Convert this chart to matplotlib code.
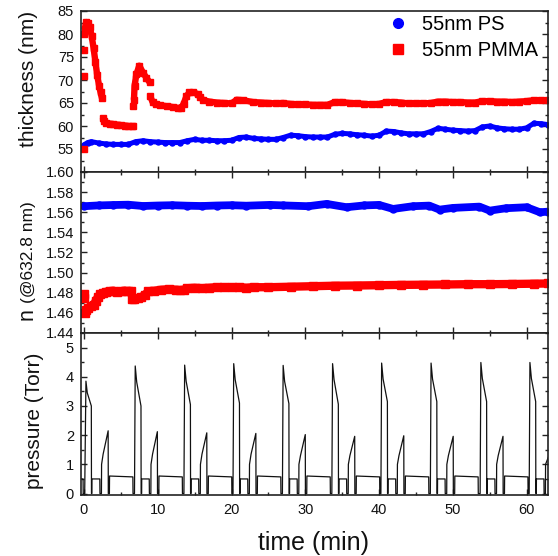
import matplotlib
matplotlib.use("Agg")
import matplotlib.pyplot as plt
from matplotlib.ticker import MultipleLocator
from matplotlib.lines import Line2D
import numpy as np

nan = np.nan
plt.rcParams['font.family'] = ['Liberation Sans', 'DejaVu Sans']

# ---------------- data ----------------
# PS thickness (nm)
ps_thick_t = [0, 0.5, 1, 2, 3, 4, 5, 6, 7, 8, 9, 10, 11, 12, 13, 14, 15, 16, 17, 18, 19, 20,
              21, 22, 23, 24, 25, 26, 27, 28, 29, 30, 31, 32, 33, 34, 35, 36, 37, 38, 39, 40,
              41, 42, 43, 44, 45, 46, 47, 48, 49, 50, 51, 52, 53, 54, 55, 56, 57, 58, 59, 60,
              61, 62, 62.9]
ps_thick = [55.9, 56.4, 56.6, 56.3, 56.1, 56.0, 56.0, 56.0, 56.6, 56.8, 56.6, 56.5, 56.4, 56.4,
            56.4, 56.8, 57.1, 56.9, 56.9, 56.8, 56.8, 56.9, 57.5, 57.6, 57.3, 57.2, 57.1, 57.1,
            57.5, 58.0, 57.9, 57.7, 57.6, 57.6, 57.6, 58.2, 58.4, 58.3, 58.1, 58.0, 57.8, 58.0,
            58.9, 58.8, 58.5, 58.3, 58.3, 58.3, 58.8, 59.5, 59.3, 59.1, 59.0, 58.9, 59.0, 59.8,
            60.0, 59.6, 59.4, 59.3, 59.3, 59.6, 60.6, 60.5, 60.3]

# PMMA thickness (nm); nan separates the gaps in the record
pmma_thick_t = [0.0, nan, 0.0, nan, 0.0, nan, 0.02, nan,
                0.1, 0.3, 0.55, 0.8, 1.05, 1.3, 1.55, 1.8, 2.05, 2.25, 2.45, nan,
                2.55, 2.7, 3.0, 3.5, 4.0, 4.5, 5.0, 5.5, 6.0, 6.5, 6.62, nan,
                6.68, nan,
                6.78, 6.86, 7.1, 7.5, 8.0, 8.45, 8.9, nan,
                8.95, 9.3, 9.7, 10.3, 11.2, 12.1, 12.8, 13.2, 13.5, 13.9, 14.3, 14.8, 15.5,
                15.7, 16.2, 17, 18, 19, 20, 20.7, 21.6, 22.9, 24, 25, 26, 27, 28, 29, 30, 31,
                32, 33, 34, 35, 36, 37, 38, 39, 40, 41, 42, 43, 44, 45, 46, 47, 48, 49, 50, 51,
                52, 53, 54, 55, 56, 57, 58, 59, 60, 61, 62, 62.9]
pmma_thick = [55.0, nan, 70.9, nan, 76.5, nan, 80.0, nan,
              81.0, 82.6, 82.4, 81.5, 79.5, 77.0, 74.0, 71.0, 68.8, 67.3, 66.0, nan,
              61.8, 61.0, 60.7, 60.5, 60.4, 60.3, 60.2, 60.1, 60.0, 59.9, 59.9, nan,
              64.4, nan,
              65.7, 68.7, 71.2, 73.1, 71.6, 70.5, 69.5, nan,
              66.6, 65.2, 64.7, 64.5, 64.3, 64.1, 63.9, 64.0, 64.8, 66.5, 67.3, 67.3, 66.9,
              66.3, 65.6, 65.3, 65.1, 65.0, 64.9, 65.7, 65.6, 65.2, 65.1, 65.0, 64.9, 65.0,
              64.8, 64.7, 64.7, 64.6, 64.6, 64.6, 65.2, 65.2, 65.0, 64.9, 64.8, 64.7, 64.8,
              65.2, 65.2, 65.1, 64.9, 64.9, 64.9, 65.0, 65.3, 65.3, 65.2, 65.2, 65.1, 65.1,
              65.4, 65.4, 65.3, 65.3, 65.2, 65.3, 65.4, 65.6, 65.6, 65.6]

# refractive index at 632.8 nm
ps_n_t = [0, 2, 4, 6, 8, 10, 12, 14, 16, 18, 20, 22, 25.2, 27, 30.4, 32.9, 35.6, 38, 40.0,
          41.9, 44.6, 46.8, 48.2, 50.0, 53.6, 55.0, 57.2, 60.0, 61.8, 62.9]
ps_n = [1.5660, 1.5668, 1.5672, 1.5675, 1.5662, 1.5667, 1.5670, 1.5665, 1.5662, 1.5667,
        1.5670, 1.5665, 1.5673, 1.5668, 1.5660, 1.5683, 1.5650, 1.5668, 1.5673, 1.5633,
        1.5660, 1.5666, 1.5626, 1.5643, 1.5656, 1.5616, 1.5640, 1.5650, 1.5600, 1.5606]

pmma_n_t = [-0.05, nan, 0.0, nan,
            0.15, 0.3, 0.6, 1.0, 1.3, 1.6, 1.9, 2.2, 2.6, 3.0, 3.5, 4.0, 4.5, 5.0, 5.5, 6.0,
            6.4, nan,
            6.5, 6.8, 7.3, 7.8, 8.3, 8.7, 9.5, 10.5, 11.5, 12.5, 13.0, 13.5, 14.0, 15, 16, 17,
            18, 19, 20, 21, 22, 23, 25, 28, 31, 34, 37, 40, 43, 46, 49, 52, 55, 58, 61, 62.9]
pmma_n = [1.4785, nan, 1.4750, nan,
          1.4600, 1.4625, 1.4650, 1.4665, 1.4675, 1.4720, 1.4760, 1.4785, 1.4800, 1.4810,
          1.4815, 1.4820, 1.4810, 1.4815, 1.4820, 1.4815, 1.4820, nan,
          1.4740, 1.4735, 1.4745, 1.4760, 1.4780, 1.4815, 1.4820, 1.4830, 1.4835, 1.4830,
          1.4825, 1.4830, 1.4845, 1.4850, 1.4845, 1.4850, 1.4855, 1.4855, 1.4855, 1.4855,
          1.4850, 1.4855, 1.4855, 1.4860, 1.4865, 1.4870, 1.4872, 1.4875, 1.4878, 1.4880,
          1.4882, 1.4885, 1.4885, 1.4887, 1.4890, 1.4892]

# chamber pressure (Torr)
pressure_t = [-0.45, -0.12, -0.1,
              0.1, 0.27, 0.45, 1.0, 1.02, 1.07, 1.08, 2.15, 2.17, 2.37, 2.39, 2.6, 3.28, 3.3, 3.45, 3.47, 6.63, 6.65,
              6.85, 6.95, 7.15, 7.73, 7.75, 7.82, 7.83, 8.85, 8.87, 9.07, 9.09, 9.3, 9.95, 9.97, 10.15, 10.17, 13.33, 13.35,
              13.55, 13.65, 13.85, 14.43, 14.45, 14.52, 14.53, 15.55, 15.57, 15.77, 15.79, 16.0, 16.65, 16.67, 16.85, 16.87, 20.03, 20.05,
              20.2, 20.3, 20.5, 21.08, 21.1, 21.17, 21.18, 22.2, 22.22, 22.42, 22.44, 22.65, 23.3, 23.32, 23.5, 23.52, 26.68, 26.7,
              26.9, 27.0, 27.2, 27.78, 27.8, 27.87, 27.88, 28.9, 28.92, 29.12, 29.14, 29.35, 30.0, 30.02, 30.2, 30.22, 33.38, 33.4,
              33.6, 33.7, 33.9, 34.48, 34.5, 34.57, 34.58, 35.6, 35.62, 35.82, 35.84, 36.05, 36.7, 36.72, 36.9, 36.92, 40.08, 40.1,
              40.25, 40.35, 40.55, 41.13, 41.15, 41.22, 41.23, 42.25, 42.27, 42.47, 42.49, 42.7, 43.35, 43.37, 43.55, 43.57, 46.73, 46.75,
              46.95, 47.05, 47.25, 47.83, 47.85, 47.92, 47.93, 48.95, 48.97, 49.17, 49.19, 49.4, 50.05, 50.07, 50.25, 50.27, 53.43, 53.45,
              53.7, 53.8, 54.0, 54.58, 54.6, 54.67, 54.68, 55.7, 55.72, 55.92, 55.94, 56.15, 56.8, 56.82, 57.0, 57.02, 60.18, 60.2,
              60.35, 60.45, 60.65, 61.23, 61.25, 61.32, 61.33, 62.35, 62.37, 62.55, 62.57, 62.95]
pressure = [0.5, 0.5, 0,
            0, 3.85, 3.45, 3.0, 0, 0, 0.5, 0.5, 0, 0, 1.0, 1.35, 2.15, 0, 0, 0.6, 0.57, 0,
            0, 4.37, 3.82, 3.0, 0, 0, 0.5, 0.5, 0, 0, 1.0, 1.35, 2.12, 0, 0, 0.6, 0.57, 0,
            0, 4.40, 3.85, 3.05, 0, 0, 0.5, 0.5, 0, 0, 1.0, 1.35, 2.08, 0, 0, 0.6, 0.57, 0,
            0, 4.45, 3.90, 3.10, 0, 0, 0.5, 0.5, 0, 0, 1.0, 1.35, 2.06, 0, 0, 0.6, 0.57, 0,
            0, 4.39, 3.84, 3.08, 0, 0, 0.5, 0.5, 0, 0, 1.0, 1.30, 2.02, 0, 0, 0.6, 0.57, 0,
            0, 4.45, 3.90, 3.06, 0, 0, 0.5, 0.5, 0, 0, 1.0, 1.30, 1.96, 0, 0, 0.6, 0.57, 0,
            0, 4.47, 3.92, 3.15, 0, 0, 0.5, 0.5, 0, 0, 1.0, 1.30, 1.98, 0, 0, 0.6, 0.57, 0,
            0, 4.47, 3.92, 3.15, 0, 0, 0.5, 0.5, 0, 0, 1.0, 1.30, 1.96, 0, 0, 0.6, 0.57, 0,
            0, 4.49, 3.94, 3.15, 0, 0, 0.5, 0.5, 0, 0, 1.0, 1.30, 1.96, 0, 0, 0.6, 0.57, 0,
            0, 4.49, 3.94, 3.15, 0, 0, 0.5, 0.5, 0, 0, 1.0, 1.25]

time_ticks = [0, 10, 20, 30, 40, 50, 60]
thick_ticks = [55, 60, 65, 70, 75, 80, 85]
n_ticks = [1.44, 1.46, 1.48, 1.50, 1.52, 1.54, 1.56, 1.58, 1.60]
p_ticks = [0, 1, 2, 3, 4, 5]
series_labels = ['55nm PS', '55nm PMMA']

# ---------------- figure ----------------
W_PX, H_PX = 558, 556
fig = plt.figure(figsize=(W_PX / 100, H_PX / 100), dpi=100)
L, Wd = 81 / W_PX, 467 / W_PX
ax1 = fig.add_axes([L, (H_PX - 172) / H_PX, Wd, 161 / H_PX])
ax2 = fig.add_axes([L, (H_PX - 333) / H_PX, Wd, 161 / H_PX], sharex=ax1)
ax3 = fig.add_axes([L, (H_PX - 495) / H_PX, Wd, 162 / H_PX], sharex=ax1)

BLUE, RED = '#0000ff', '#ff0000'

ax1.plot(ps_thick_t, ps_thick, color=BLUE, lw=3.6, marker='o', ms=3.6,
         solid_capstyle='round', solid_joinstyle='round')
ax1.plot(pmma_thick_t, pmma_thick, color=RED, lw=4.6, marker='s', ms=4.6,
         solid_capstyle='butt')

ax2.plot(ps_n_t, ps_n, color=BLUE, lw=5.6, marker='o', ms=5.0, solid_capstyle='round')
ax2.plot(pmma_n_t, pmma_n, color=RED, lw=6.0, marker='s', ms=5.5, solid_capstyle='butt')

ax3.plot(pressure_t, pressure, color='#111111', lw=0.9)

ax1.set_ylim(50, 85)
ax1.set_yticks(thick_ticks)
ax1.yaxis.set_minor_locator(MultipleLocator(2.5))

ax2.set_ylim(1.44, 1.60)
ax2.set_yticks(n_ticks)
ax2.set_yticklabels([f'{v:.2f}' for v in n_ticks])
ax2.yaxis.set_minor_locator(MultipleLocator(0.01))

ax3.set_ylim(-0.05, 5.5)
ax3.set_yticks(p_ticks)
ax3.yaxis.set_minor_locator(MultipleLocator(0.5))

ax3.set_xlim(-0.4, 62.9)
ax3.set_xticks(time_ticks)
ax3.xaxis.set_minor_locator(MultipleLocator(5))

for ax in (ax1, ax2, ax3):
    ax.tick_params(which='both', direction='in', right=True, top=(ax is not ax1),
                   color='#222222', width=1.0, labelsize=10.5, labelcolor='#111111')
    ax.tick_params(which='major', length=4)
    ax.tick_params(which='minor', length=2.5)
    ax.tick_params(axis='y', pad=5)
    for s in ax.spines.values():
        s.set_linewidth(1.2)
        s.set_color('#222222')
for ax in (ax1, ax2):
    ax.tick_params(axis='x', labelbottom=False)
ax3.tick_params(axis='x', pad=6)

# axis labels
def px(x, y):
    return x / W_PX, 1 - y / H_PX

lab_kw = dict(rotation=90, rotation_mode='anchor', ha='center', va='baseline', color='#111111')
fig.text(*px(33.5, 78.5), 'thickness (nm)', fontsize=15, **lab_kw)
fig.text(*px(33.0, 314), 'n', fontsize=15.5, **lab_kw)
fig.text(*px(33.0, 252), '(@632.8 nm)', fontsize=12.5, **lab_kw)
fig.text(*px(40.0, 421), 'pressure (Torr)', fontsize=15, **lab_kw)
fig.text(*px(313, 550), 'time (min)', fontsize=18, ha='center', va='baseline', color='#111111')

handles = [Line2D([], [], ls='none', marker='o', ms=7, color=BLUE),
           Line2D([], [], ls='none', marker='s', ms=7, color=RED)]
ax1.legend(handles, series_labels, loc='upper right', bbox_to_anchor=(1 - 6 / 467, 1),
           frameon=False, fontsize=14.5, handlelength=1.0, handletextpad=0.7,
           borderpad=0.2, borderaxespad=0, labelspacing=0.35)

fig.savefig('out.png', dpi=100)
